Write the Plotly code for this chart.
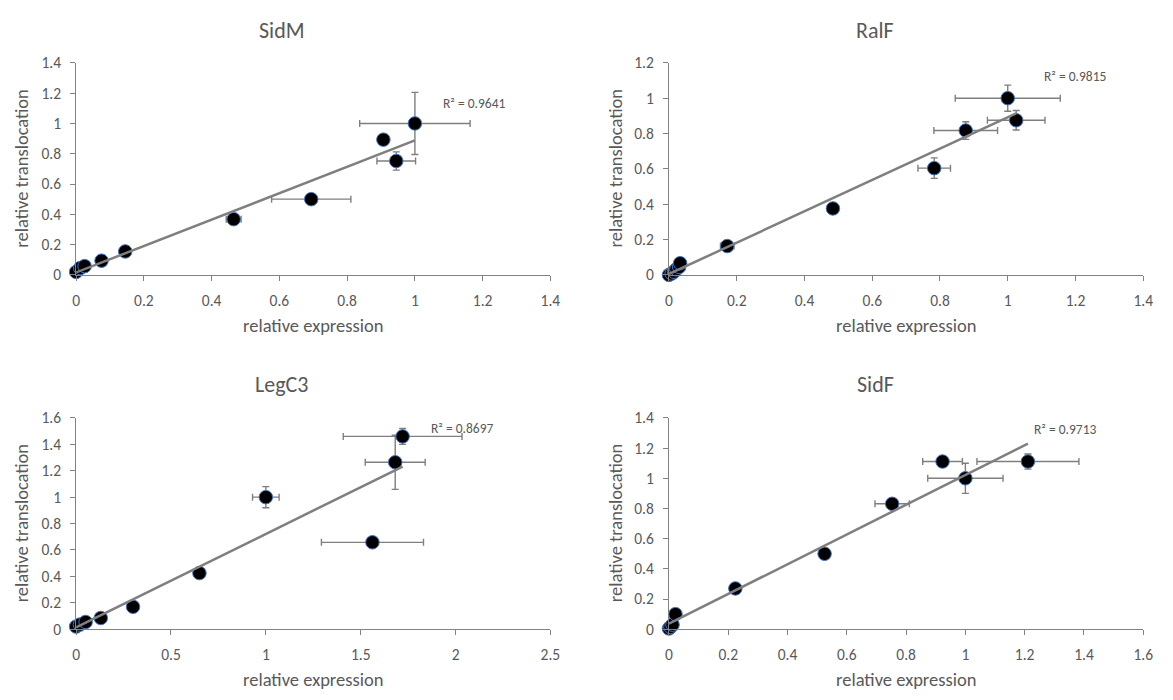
import numpy as np
import plotly.graph_objects as go

# ---- data -------------------------------------------------------------
sidm_x = [0.0, 0.012, 0.025, 0.075, 0.145, 0.465, 0.694, 0.907, 0.945, 1.0]
sidm_y = [0.02, 0.045, 0.058, 0.094, 0.155, 0.368, 0.50, 0.893, 0.752, 1.0]
sidm_xerr = [0, 0, 0, 0, 0, 0.022, 0.117, 0.01, 0.057, 0.163]
sidm_yerr = [0, 0, 0, 0, 0, 0.015, 0.01, 0.01, 0.06, 0.205]

ralf_x = [0.0, 0.008, 0.015, 0.022, 0.03, 0.033, 0.172, 0.484, 0.783, 0.876, 1.0, 1.025]
ralf_y = [0.0, 0.008, 0.018, 0.032, 0.045, 0.066, 0.163, 0.376, 0.604, 0.817, 1.0, 0.875]
ralf_xerr = [0, 0, 0, 0, 0, 0, 0.02, 0.015, 0.048, 0.094, 0.155, 0.085]
ralf_yerr = [0, 0, 0, 0, 0, 0, 0.01, 0.02, 0.058, 0.05, 0.074, 0.055]

legc3_x = [0.0, 0.02, 0.05, 0.13, 0.30, 0.65, 1.0, 1.562, 1.682, 1.721]
legc3_y = [0.02, 0.035, 0.055, 0.085, 0.17, 0.425, 1.0, 0.658, 1.264, 1.46]
legc3_xerr = [0, 0, 0, 0, 0, 0.02, 0.07, 0.269, 0.158, 0.313]
legc3_yerr = [0, 0, 0, 0, 0, 0.01, 0.08, 0.01, 0.205, 0.06]

sidf_x = [0.0, 0.005, 0.012, 0.022, 0.224, 0.525, 0.753, 0.923, 1.0, 1.211]
sidf_y = [0.005, 0.015, 0.03, 0.10, 0.27, 0.50, 0.831, 1.111, 1.0, 1.111]
sidf_xerr = [0, 0, 0, 0, 0, 0, 0.058, 0.067, 0.127, 0.172]
sidf_yerr = [0, 0, 0, 0, 0, 0, 0.01, 0.01, 0.10, 0.05]

titles = ["SidM", "RalF", "LegC3", "SidF"]
r2_labels = ["R² = 0.9641", "R² = 0.9815", "R² = 0.8697", "R² = 0.9713"]
x_max = [1.4, 1.4, 2.5, 1.6]
x_step = [0.2, 0.2, 0.5, 0.2]
y_max = [1.4, 1.2, 1.6, 1.4]
y_step = [0.2, 0.2, 0.2, 0.2]
r2_pos = [(1.076, 1.133), (1.101, 1.123), (1.862, 1.52), (1.225, 1.32)]

panels = [
    (sidm_x, sidm_y, sidm_xerr, sidm_yerr),
    (ralf_x, ralf_y, ralf_xerr, ralf_yerr),
    (legc3_x, legc3_y, legc3_xerr, legc3_yerr),
    (sidf_x, sidf_y, sidf_xerr, sidf_yerr),
]

# ---- layout geometry (pixels in a 1173 x 700 page) --------------------
W, H = 1173, 700
col_px = [(73, 553), (673, 1153)]
row_px = [(54.3, 272.3), (419.3, 636.5)]
title_px = [(281, 20.7), (882, 20.7), (281, 385), (882, 385)]
xtitle_y = [324, 324, 688, 688]
ytitle_x = [18, 619, 18, 619]

FONT = "Carlito, Calibri, Lato, sans-serif"
TXT = "#595959"
AXC = "#828282"
LINEC = "#7f7f7f"

fig = go.Figure()
layout = dict(
    width=W, height=H, autosize=False,
    margin=dict(l=0, r=0, t=0, b=0),
    paper_bgcolor="white", plot_bgcolor="white",
    showlegend=False,
    font=dict(family=FONT, color=TXT),
)
annotations = []

for i, (xs, ys, xe, ye) in enumerate(panels):
    r, c = divmod(i, 2)
    n = "" if i == 0 else str(i + 1)
    xa, ya = "x" + n, "y" + n
    x0p, x1p = col_px[c]
    top, bot = row_px[r]

    fig.add_trace(go.Scatter(
        x=xs, y=ys, mode="markers", xaxis=xa, yaxis=ya, cliponaxis=False,
        marker=dict(size=13.5, color="black", line=dict(color="#4472C4", width=1)),
        error_x=dict(type="data", array=xe, color=LINEC, thickness=1.4, width=3.5),
        error_y=dict(type="data", array=ye, color=LINEC, thickness=1.4, width=3.5),
    ))

    # least-squares trendline over the data extent
    slope, icpt = np.polyfit(xs, ys, 1)
    tx = np.array([min(xs), max(xs)])
    fig.add_trace(go.Scatter(
        x=tx, y=slope * tx + icpt, mode="lines", xaxis=xa, yaxis=ya,
        cliponaxis=False, line=dict(color=LINEC, width=2.5),
    ))

    axis_common = dict(
        showline=True, linecolor=AXC, linewidth=1, ticks="outside",
        ticklen=5, tickcolor=AXC, showgrid=False, zeroline=False,
        tickfont=dict(family=FONT, size=15.5, color=TXT),
        ticklabelstandoff=6,
    )
    layout["xaxis" + n] = dict(
        axis_common, domain=[x0p / W, x1p / W], range=[0, x_max[i]],
        tick0=0, dtick=x_step[i], anchor=ya, tickformat="~g",
    )
    layout["yaxis" + n] = dict(
        axis_common, domain=[1 - bot / H, 1 - top / H], range=[0, y_max[i]],
        tick0=0, dtick=y_step[i], anchor=xa, tickformat="~g",
    )

    # chart title
    tx_, ty_ = title_px[i]
    annotations.append(dict(
        text=titles[i], x=tx_ / W, y=1 - ty_ / H, xref="paper", yref="paper",
        xanchor="center", yanchor="middle", showarrow=False,
        font=dict(family=FONT, size=22, color=TXT),
    ))
    # axis titles
    annotations.append(dict(
        text="relative expression", x=(x0p + x1p) / 2 / W, y=1 - xtitle_y[i] / H,
        xref="paper", yref="paper", xanchor="center", yanchor="middle",
        showarrow=False, font=dict(family=FONT, size=18.5, color=TXT),
    ))
    annotations.append(dict(
        text="relative translocation", x=ytitle_x[i] / W, y=1 - (top + bot) / 2 / H,
        xref="paper", yref="paper", xanchor="center", yanchor="middle",
        textangle=-90, showarrow=False, font=dict(family=FONT, size=18.5, color=TXT),
    ))
    # R² label
    annotations.append(dict(
        text=r2_labels[i], x=r2_pos[i][0], y=r2_pos[i][1], xref=xa, yref=ya,
        xanchor="left", yanchor="middle", showarrow=False,
        font=dict(family=FONT, size=13.5, color=TXT),
    ))

layout["annotations"] = annotations
fig.update_layout(**layout)
fig.write_html("out.html")
